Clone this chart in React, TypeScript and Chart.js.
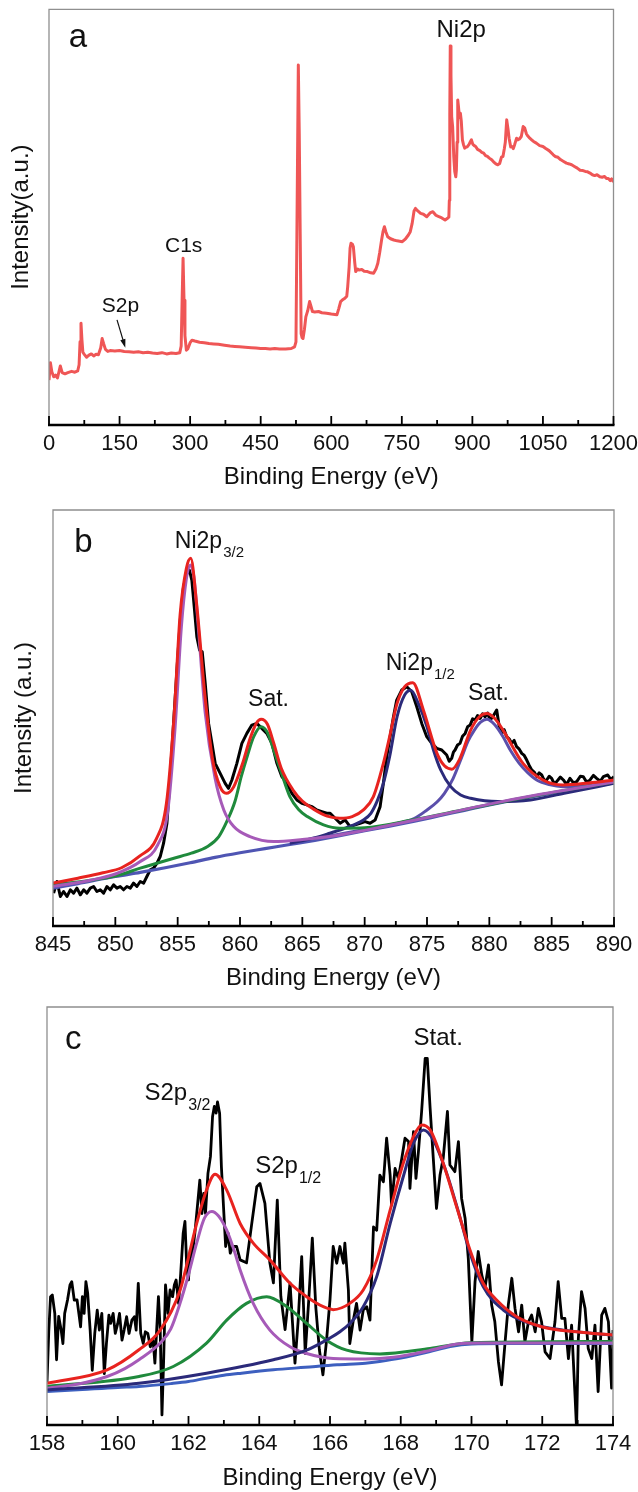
import React, { useEffect, useRef } from 'react';
import { Chart, registerables } from 'chart.js';

Chart.register(...registerables);

const FONT = "'Liberation Sans', Arial, Helvetica, sans-serif";

// ---------------- Panel a : survey spectrum ----------------
const A_TICKS = [0, 150, 300, 450, 600, 750, 900, 1050, 1200];
const SURVEY_EV = [
  0, 3, 6, 10, 14, 18, 24, 28, 34, 40,
  48, 55, 61, 64, 66, 68, 70, 72, 75, 80,
  85, 90, 95, 100, 105, 110, 113, 116, 120, 125,
  130, 140, 150, 160, 170, 180, 190, 200, 210, 220,
  230, 240, 250, 260, 270, 278, 281, 283, 285, 287,
  289, 292, 295, 300, 304, 310, 320, 330, 340, 350,
  360, 373, 385, 395, 405, 417, 430, 440, 450, 460,
  470, 480, 490, 503, 515, 522, 525, 527, 530, 532,
  534, 536, 538, 540, 543, 546, 550, 554, 557, 560,
  565, 573, 580, 590, 600, 612, 616, 620, 625, 629,
  633, 635, 638, 640, 642, 645, 647, 650, 652, 656,
  659, 665, 670, 677, 684, 690, 695, 699, 703, 707,
  710, 713, 716, 720, 726, 733, 740, 751, 758, 764,
  768, 772, 776, 779, 784, 790, 796, 803, 810, 816,
  822, 829, 835, 842, 848, 850, 851, 852, 853, 854.5,
  856, 858, 860.5, 862.5, 864.7, 866, 867.5, 868.9, 870.5, 871.7,
  873, 874.5, 876.5, 878.8, 881, 883.8, 886, 889, 893, 896,
  898, 901, 904, 907, 911, 916, 920, 924, 928, 932,
  936, 941, 945, 950, 954, 958, 962, 965, 968, 970,
  973, 976, 978, 981.5, 984, 987, 990, 994, 997, 1000,
  1004, 1008, 1011, 1015, 1018, 1022, 1026, 1030, 1036, 1043,
  1050, 1056, 1063, 1072, 1076, 1082, 1088, 1094, 1100, 1106,
  1111, 1117, 1123, 1129, 1135, 1140, 1145, 1150, 1155, 1160,
  1165, 1171, 1176, 1181, 1185, 1189, 1193, 1196, 1200,
];
const SURVEY_I = [
  10.8, 15.0, 12.8, 11.6, 12.0, 11.3, 14.2, 12.6, 12.3, 12.6,
  12.9, 12.7, 13.0, 14.5, 20.0, 24.5, 20.5, 17.5, 17.0, 16.3,
  16.8, 17.1, 16.6, 17.0, 16.9, 18.6, 20.8, 19.6, 18.2, 17.7,
  17.9, 17.8, 17.9, 17.7, 17.6, 17.5, 17.6, 17.4, 17.5, 17.3,
  17.2, 17.4, 17.1, 17.3, 17.2, 17.4, 19.0, 30.0, 40.1, 30.0,
  21.5, 18.0, 18.3, 19.8, 20.4, 20.2, 19.9, 19.8, 19.6, 19.5,
  19.4, 19.2, 19.0, 18.9, 18.8, 18.7, 18.6, 18.5, 18.4, 18.4,
  18.3, 18.4, 18.3, 18.3, 18.4, 18.8, 20.0, 46.0, 86.6, 70.0,
  46.0, 22.0, 21.0, 20.8, 23.0, 26.0, 27.5, 29.7, 28.5, 27.3,
  27.2, 27.3, 27.0, 26.9, 26.7, 26.5, 28.0, 29.7, 30.2, 30.5,
  31.0, 33.3, 38.0, 42.5, 43.7, 43.5, 42.9, 39.0, 36.9, 37.5,
  37.3, 37.4, 37.0, 36.9, 36.6, 36.5, 37.5, 38.9, 41.5, 44.5,
  46.5, 47.7, 46.5, 45.3, 44.8, 44.5, 44.3, 44.1, 44.8, 45.7,
  46.5, 48.5, 51.5, 52.1, 51.5, 50.9, 50.7, 50.1, 51.0, 51.3,
  50.5, 50.1, 49.8, 49.3, 49.8, 50.0, 54.0, 75.0, 91.2, 84.0,
  74.2, 71.8, 64.5, 61.0, 59.7, 61.3, 68.0, 78.2, 76.5, 75.0,
  74.0, 75.0, 73.0, 68.6, 67.5, 66.6, 66.8, 66.9, 67.5, 68.2,
  68.6, 67.5, 67.2, 67.0, 66.3, 66.0, 65.6, 65.4, 64.8, 64.6,
  64.2, 63.8, 63.3, 62.8, 62.6, 62.9, 64.5, 64.6, 66.5, 68.0,
  73.4, 71.0, 69.0, 66.9, 67.0, 66.5, 67.5, 69.0, 68.6, 68.8,
  69.4, 71.8, 71.5, 70.0, 69.5, 69.0, 68.6, 68.2, 67.8, 67.2,
  67.0, 66.5, 66.0, 65.0, 64.6, 64.4, 63.8, 63.4, 63.0, 62.8,
  62.6, 62.2, 61.8, 61.3, 61.2, 61.0, 60.9, 60.6, 60.2, 60.0,
  60.2, 59.7, 59.6, 59.8, 59.3, 59.3, 58.8, 59.2, 58.5,
];

// ---------------- Panel b : Ni 2p ----------------
const B_TICKS = [845, 850, 855, 860, 865, 870, 875, 880, 885, 890];
const NI_DATA_EV = [
  845.05, 845.32, 845.59, 845.85, 846.12, 846.39, 846.65, 846.92, 847.19, 847.46,
  847.72, 847.99, 848.26, 848.52, 848.79, 849.06, 849.33, 849.59, 849.86, 850.13,
  850.39, 850.66, 850.93, 851.2, 851.46, 851.73, 852.0, 852.27, 852.53, 852.8,
  853.07, 853.34, 853.6, 853.87, 854.14, 854.4, 854.67, 854.94, 855.21, 855.47,
  855.74, 855.95, 856.14, 856.33, 856.54, 856.76, 856.97, 857.21, 857.48, 857.75,
  858.01, 858.41, 858.81, 859.08, 859.35, 859.75, 860.15, 860.55, 860.95, 861.35,
  861.75, 862.15, 862.56, 862.96, 863.36, 863.76, 864.16, 864.56, 864.96, 865.36,
  865.76, 866.16, 866.56, 866.96, 867.23, 867.63, 868.03, 868.43, 868.83, 869.23,
  869.63, 870.03, 870.43, 870.84, 871.24, 871.5, 871.77, 872.04, 872.31, 872.57,
  872.97, 873.38, 873.78, 874.18, 874.58, 874.98, 875.38, 875.78, 876.18, 876.58,
  876.78, 876.98, 877.12, 877.25, 877.45, 877.65, 877.85, 878.06, 878.26, 878.46,
  878.66, 878.86, 879.06, 879.26, 879.46, 879.66, 879.86, 880.06, 880.3, 880.59,
  880.79, 880.99, 881.19, 881.39, 881.59, 881.79, 881.99, 882.19, 882.4, 882.6,
  882.8, 883.0, 883.2, 883.4, 883.6, 883.8, 884.0, 884.2, 884.4, 884.6,
  884.8, 885.0, 885.2, 885.4, 885.7, 885.94, 886.2, 886.47, 886.75, 887.01,
  887.3, 887.54, 887.8, 888.08, 888.35, 888.61, 888.9, 889.15, 889.5, 889.75,
  890.0,
];
const NI_DATA = [
  7.9, 10.7, 7.1, 8.3, 7.1, 8.7, 7.9, 9.1, 7.5, 8.7,
  7.9, 9.1, 9.5, 8.3, 8.7, 7.9, 9.5, 8.7, 9.9, 9.1,
  9.5, 8.7, 9.5, 9.1, 10.3, 9.5, 10.7, 10.3, 11.9, 13.5,
  13.9, 15.1, 16.7, 19.9, 24.7, 35.9, 48.7, 61.5, 73.5, 81.5,
  84.7, 85.5, 83.1, 76.7, 69.5, 66.3, 65.9, 58.3, 48.7, 43.9,
  39.1, 36.7, 34.3, 33.1, 35.1, 39.1, 43.9, 46.3, 48.3, 48.7,
  47.5, 46.3, 43.9, 39.1, 35.9, 34.3, 31.9, 30.3, 29.5, 29.1,
  28.7, 27.9, 27.5, 27.1, 27.1, 25.9, 24.7, 25.5, 23.9, 24.3,
  24.7, 25.1, 24.7, 25.5, 28.7, 34.3, 40.7, 45.5, 50.3, 54.3,
  56.7, 57.5, 56.3, 52.7, 48.7, 45.5, 43.9, 42.7, 42.3, 41.1,
  39.6, 40.3, 41.8, 42.3, 43.5, 43.9, 45.6, 46.3, 47.9, 48.3,
  49.8, 49.5, 50.6, 49.9, 51.0, 50.3, 51.2, 49.5, 50.4, 51.9,
  48.0, 46.3, 47.2, 45.5, 45.0, 43.9, 44.6, 43.1, 42.5, 41.5,
  41.0, 39.9, 38.6, 37.5, 37.0, 35.9, 36.8, 36.3, 35.0, 35.1,
  36.0, 35.5, 34.2, 34.7, 35.8, 35.1, 34.0, 35.5, 34.4, 34.7,
  36.0, 35.9, 34.6, 35.1, 36.2, 35.5, 34.8, 35.9, 36.3, 35.2,
  35.9,
];
const NI_ENV_EV = [
  845, 847, 849, 850.5, 852, 853.3, 854.1, 854.7, 855.2, 855.7,
  856.05, 856.5, 857.2, 857.8, 858.4, 858.9, 859.5, 860.2, 860.8, 861.3,
  861.7, 862.2, 862.7, 863.3, 864.3, 865.0, 865.9, 867.0, 868.0, 869.0,
  869.9, 870.7, 871.5, 872.0, 872.6, 873.2, 873.86, 874.7, 875.8, 876.4,
  877.0, 877.6, 878.5, 879.2, 879.8, 880.4, 881.1, 882.7, 884.3, 885.9,
  888, 890,
];
const NI_ENV = [
  10.3, 11.5, 12.8, 14.0, 16.9, 21.0, 29.5, 50.0, 75.0, 86.0,
  88.4, 78.0, 55.0, 40.0, 33.5, 31.9, 33.5, 39.0, 45.0, 48.7,
  49.7, 48.5, 44.0, 38.0, 32.5, 30.0, 28.1, 26.4, 25.9, 26.3,
  27.9, 31.1, 39.1, 45.5, 53.5, 57.5, 58.5, 52.0, 41.5, 38.5,
  37.7, 40.0, 47.1, 50.3, 51.1, 50.0, 47.1, 39.1, 35.1, 33.9,
  34.4, 35.1,
];
const NI_P32_EV = [845, 848, 850, 852, 853.4, 854.2, 854.8, 855.3, 855.7, 856.0, 856.3, 856.6, 857.2, 858.0, 858.7, 859.5, 860.8, 862.7, 865, 868, 872, 876, 880, 884, 890];
const NI_P32 = [9.5, 11.0, 12.5, 15.5, 19.5, 27.5, 48.0, 72.0, 83.5, 86.8, 84.0, 74.0, 51.5, 35.5, 27.9, 23.9, 21.5, 20.3, 20.8, 21.9, 24.2, 26.7, 29.3, 31.6, 34.6];
const NI_SAT1_EV = [845, 848, 850, 852, 854.7, 856.1, 857.4, 858.3, 859.0, 859.6, 860.1, 860.6, 861.1, 861.7, 862.2, 862.7, 863.3, 864.0, 864.7, 865.4, 866.7, 868, 870, 874, 878, 882, 886, 890];
const NI_SAT1 = [9.9, 11.0, 12.0, 13.9, 16.3, 17.5, 19.1, 21.5, 25.5, 30.0, 35.9, 41.0, 45.5, 47.9, 46.5, 42.3, 37.0, 31.1, 28.0, 26.3, 24.3, 23.5, 23.6, 25.6, 28.0, 30.4, 32.6, 34.6];
const NI_P12_EV = [864, 866, 867.2, 868.5, 869.9, 870.5, 871.0, 871.5, 872.0, 872.6, 873.2, 873.7, 874.3, 875.0, 875.5, 876.1, 876.9, 877.7, 878.5, 880.7, 883.3, 886, 890];
const NI_P12 = [19.9, 21.2, 22.3, 23.6, 25.5, 27.1, 30.0, 34.3, 40.7, 50.3, 55.5, 56.7, 53.5, 47.9, 42.5, 37.5, 33.5, 31.5, 30.7, 29.9, 30.3, 31.9, 34.3];
const NI_SAT2_EV = [866, 870, 872, 874, 875.0, 875.8, 876.4, 877.1, 877.8, 878.3, 878.8, 879.3, 879.8, 880.4, 881.1, 881.7, 882.4, 883.1, 883.8, 884.8, 885.9, 888, 890];
const NI_SAT2 = [21.0, 23.2, 24.3, 25.9, 27.9, 29.8, 31.9, 35.5, 40.7, 44.5, 47.1, 49.0, 49.7, 48.5, 45.5, 42.2, 39.1, 36.8, 35.1, 34.0, 33.5, 33.8, 34.7];
const NI_BG_EV = [845, 847, 850, 852, 854, 856, 858, 860, 862, 864, 866, 868, 870, 872, 874, 876, 878, 880, 882, 884, 886, 888, 890];
const NI_BG = [9.1, 10.2, 11.9, 12.9, 14.0, 15.2, 16.5, 17.6, 18.6, 19.6, 20.6, 21.7, 22.9, 24.0, 25.2, 26.5, 27.8, 29.1, 30.3, 31.4, 32.4, 33.4, 34.4];

// ---------------- Panel c : S 2p ----------------
const C_TICKS = [158, 160, 162, 164, 166, 168, 170, 172, 174];
const S_DATA_EV = [
  158.0, 158.05, 158.1, 158.15, 158.22, 158.27, 158.33, 158.4, 158.45, 158.5,
  158.58, 158.65, 158.7, 158.77, 158.85, 158.9, 158.95, 159.0, 159.05, 159.1,
  159.15, 159.22, 159.28, 159.35, 159.42, 159.48, 159.55, 159.62, 159.68, 159.75,
  159.8, 159.87, 159.93, 160.0, 160.05, 160.12, 160.18, 160.25, 160.32, 160.4,
  160.47, 160.52, 160.58, 160.65, 160.72, 160.78, 160.85, 160.92, 161.0, 161.05,
  161.1, 161.15, 161.2, 161.25, 161.3, 161.35, 161.42, 161.48, 161.55, 161.6,
  161.65, 161.72, 161.78, 161.85, 161.9, 161.95, 162.0, 162.05, 162.1, 162.18,
  162.25, 162.32, 162.38, 162.43, 162.48, 162.55, 162.62, 162.68, 162.73, 162.78,
  162.82, 162.88, 162.93, 163.0, 163.05, 163.12, 163.18, 163.25, 163.36, 163.46,
  163.64, 163.79, 163.93, 164.02, 164.16, 164.3, 164.4, 164.51, 164.61, 164.73,
  164.87, 165.01, 165.1, 165.2, 165.3, 165.4, 165.5, 165.6, 165.7, 165.8,
  165.9, 166.0, 166.09, 166.19, 166.28, 166.38, 166.42, 166.52, 166.56, 166.66,
  166.75, 166.85, 166.94, 167.04, 167.13, 167.23, 167.32, 167.41, 167.51, 167.6,
  167.7, 167.74, 167.84, 167.93, 168.03, 168.12, 168.22, 168.26, 168.36, 168.43,
  168.5, 168.59, 168.69, 168.75, 168.83, 168.92, 169.01, 169.11, 169.2, 169.32,
  169.39, 169.53, 169.63, 169.72, 169.82, 169.91, 170.01, 170.1, 170.19, 170.29,
  170.38, 170.48, 170.57, 170.66, 170.76, 170.85, 170.95, 171.04, 171.14, 171.23,
  171.33, 171.42, 171.51, 171.61, 171.7, 171.8, 171.89, 171.98, 172.08, 172.22,
  172.36, 172.45, 172.55, 172.64, 172.74, 172.83, 172.93, 172.97, 173.02, 173.11,
  173.21, 173.3, 173.4, 173.49, 173.58, 173.68, 173.77, 173.87, 173.96, 174.0,
];
const S_DATA = [
  10.3, 22.3, 30.7, 31.1, 26.7, 15.6, 26.0, 22.7, 19.5, 26.7,
  29.9, 33.5, 34.3, 29.9, 29.9, 26.7, 23.5, 30.7, 26.7, 34.3,
  31.5, 22.7, 13.1, 21.9, 27.5, 22.7, 26.7, 12.3, 19.5, 26.3,
  24.3, 26.7, 21.9, 24.3, 26.7, 20.3, 22.7, 25.9, 21.9, 25.1,
  25.9, 22.7, 33.9, 21.9, 19.5, 22.3, 21.9, 18.7, 20.3, 14.8,
  22.7, 30.7, 22.7, 2.4, 16.3, 33.5, 26.7, 32.3, 30.7, 33.5,
  34.7, 29.1, 36.3, 45.9, 48.7, 37.9, 34.7, 41.9, 40.3, 45.9,
  52.2, 58.6, 50.6, 55.4, 50.6, 60.2, 64.2, 73.8, 76.2, 74.6,
  77.3, 74.6, 61.8, 50.6, 42.7, 45.9, 41.1, 42.7, 42.7, 39.5,
  38.8, 48.3, 57.0, 57.8, 53.0, 38.8, 34.0, 53.8, 30.8, 22.8,
  34.0, 14.8, 25.0, 40.3, 17.1, 30.0, 44.7, 28.0, 18.0, 12.0,
  20.0, 30.0, 42.7, 38.7, 42.7, 38.7, 43.5, 32.3, 19.5, 25.1,
  29.1, 22.7, 27.5, 28.3, 25.1, 47.4, 46.6, 59.8, 58.2, 68.6,
  59.8, 52.6, 61.4, 59.0, 63.8, 68.6, 67.8, 56.6, 70.2, 59.0,
  65.4, 75.0, 87.7, 87.7, 75.8, 63.8, 51.8, 59.8, 63.8, 75.0,
  62.2, 60.6, 67.8, 54.2, 49.4, 39.8, 19.9, 34.3, 41.5, 35.9,
  32.7, 38.3, 28.7, 24.7, 15.2, 9.6, 19.9, 28.7, 35.1, 27.9,
  22.3, 28.7, 19.9, 24.7, 26.3, 22.3, 27.9, 24.7, 17.5, 15.9,
  24.7, 34.3, 25.5, 25.5, 15.9, 23.9, 6.4, -1.0, 20.7, 31.9,
  27.9, 18.3, 15.9, 23.9, 8.0, 26.3, 27.9, 24.7, 8.8, 22.7,
];
const S_ENV_EV = [158.0, 159.7, 160.6, 161.2, 161.76, 162.23, 162.51, 162.75, 163.08, 163.46, 163.83, 164.3, 164.87, 165.34, 165.81, 166.09, 166.56, 166.94, 167.32, 167.7, 168.07, 168.36, 168.59, 168.83, 169.2, 169.58, 169.96, 170.33, 170.71, 171.28, 172.03, 172.97, 174.0];
const S_ENV = [10.0, 13.2, 18.0, 22.7, 32.2, 48.2, 56.2, 60.0, 56.2, 48.2, 43.5, 39.5, 33.9, 30.7, 28.3, 27.6, 29.1, 32.3, 39.5, 51.4, 62.6, 69.0, 71.8, 70.6, 62.6, 52.2, 41.8, 33.9, 29.9, 25.9, 23.4, 22.3, 21.5];
const S_P32_EV = [158.0, 159.0, 159.7, 160.2, 160.6, 161.2, 161.5, 161.76, 162.0, 162.23, 162.45, 162.66, 162.85, 163.08, 163.3, 163.46, 163.83, 164.3, 164.87, 165.34, 166.09, 167.0, 167.8, 168.8, 169.6, 170.2, 174];
const S_P32 = [8.8, 10.0, 11.6, 13.5, 15.6, 19.6, 23.0, 29.1, 36.0, 43.5, 49.5, 51.1, 50.0, 46.6, 41.5, 37.1, 29.1, 22.7, 18.7, 17.1, 15.9, 15.8, 16.2, 17.8, 19.4, 19.6, 19.6];
const S_P12_EV = [158.0, 160.6, 161.57, 162.51, 163.08, 163.64, 164.21, 164.78, 165.34, 165.9, 166.47, 167.41, 168.83, 169.96, 174.0];
const S_P12 = [9.2, 11.6, 14.0, 19.6, 25.1, 29.1, 30.7, 28.3, 24.3, 20.3, 17.9, 17.0, 18.3, 19.7, 20.0];
const S_STAT_EV = [158.0, 160.6, 162.51, 164.4, 165.34, 166.0, 166.28, 166.56, 166.94, 167.32, 167.7, 168.07, 168.36, 168.64, 168.92, 169.3, 169.67, 169.96, 170.33, 170.9, 171.65, 172.6, 174.0];
const S_STAT = [8.4, 10.0, 12.4, 15.6, 17.9, 20.8, 22.3, 24.3, 28.3, 35.5, 48.2, 59.4, 67.4, 70.6, 68.2, 60.2, 49.8, 41.1, 33.1, 27.5, 24.3, 22.7, 21.5];
const S_BG_EV = [158, 159, 160, 160.6, 161.5, 162.0, 162.5, 163.0, 163.5, 164.4, 165.3, 166.2, 167.0, 167.4, 168.0, 168.8, 169.4, 170.0, 171, 172, 173, 174];
const S_BG = [8.0, 8.5, 9.0, 9.2, 9.9, 10.4, 11.2, 11.9, 12.4, 13.2, 13.8, 14.4, 14.8, 15.2, 16.0, 17.5, 18.8, 19.4, 19.5, 19.5, 19.5, 19.5];

// ---------------- annotations (data coordinates) ----------------
const A_LABELS = [
  { text: 'a', x: 61.6, y: 93.1, size: 33 },
  { text: 'Ni2p', x: 876.2, y: 95.0, size: 24 },
  { text: 'C1s', x: 286.3, y: 42.9, size: 21 },
  { text: 'S2p', x: 151.8, y: 28.5, size: 21 },
];
const A_ARROW = { x1: 144.6, y1: 25.3, x2: 162.2, y2: 18.6 };
const B_LABELS = [
  { text: 'b', x: 847.45, y: 92.1, size: 33 },
  { text: 'Ni2p', sub: '3/2', x: 856.67, y: 92.4, size: 23, subSize: 15 },
  { text: 'Sat.', x: 862.29, y: 54.3, size: 23 },
  { text: 'Ni2p', sub: '1/2', x: 873.58, y: 63.1, size: 23, subSize: 15 },
  { text: 'Sat.', x: 879.92, y: 55.9, size: 23 },
];
const C_LABELS = [
  { text: 'c', x: 158.74, y: 92.1, size: 33 },
  { text: 'Stat.', x: 169.06, y: 92.5, size: 24 },
  { text: 'S2p', sub: '3/2', x: 161.36, y: 79.4, size: 24, subSize: 16 },
  { text: 'S2p', sub: '1/2', x: 164.49, y: 61.8, size: 24, subSize: 16 },
];

function pts(xs: number[], ys: number[]) {
  return xs.map((x, i) => ({ x, y: ys[i] }));
}

function ds(xs: number[], ys: number[], color: string, width: number, smooth: boolean) {
  return {
    data: pts(xs, ys),
    borderColor: color,
    backgroundColor: color,
    borderWidth: width,
    pointRadius: 0,
    fill: false,
    tension: smooth ? 0.4 : 0,
    cubicInterpolationMode: smooth ? 'monotone' : 'default',
    borderJoinStyle: 'round',
  };
}

function decorPlugin(labels: any[], arrow?: any) {
  return {
    id: 'decor',
    afterDatasetsDraw(chart: any) {
      const { ctx, chartArea: ca } = chart;
      const xs = chart.scales.x;
      const ys = chart.scales.y;
      ctx.save();
      // frame (gray)
      ctx.strokeStyle = '#8f8f8f';
      ctx.lineWidth = 1.3;
      ctx.beginPath();
      ctx.moveTo(ca.left, ca.bottom);
      ctx.lineTo(ca.left, ca.top);
      ctx.lineTo(ca.right, ca.top);
      ctx.lineTo(ca.right, ca.bottom);
      ctx.stroke();
      // inward ticks
      const vals = xs.ticks.map((t: any) => t.value);
      ctx.strokeStyle = '#000';
      ctx.lineWidth = 1.8;
      ctx.beginPath();
      vals.forEach((v: number, i: number) => {
        const px = xs.getPixelForValue(v);
        ctx.moveTo(px, ca.bottom);
        ctx.lineTo(px, ca.bottom - 9);
        if (i < vals.length - 1) {
          const pm = xs.getPixelForValue((v + vals[i + 1]) / 2);
          ctx.moveTo(pm, ca.bottom);
          ctx.lineTo(pm, ca.bottom - 5);
        }
      });
      ctx.stroke();
      // x axis line
      ctx.lineWidth = 2.4;
      ctx.beginPath();
      ctx.moveTo(ca.left - 1, ca.bottom);
      ctx.lineTo(ca.right + 1, ca.bottom);
      ctx.stroke();
      // labels
      ctx.fillStyle = '#111';
      ctx.textBaseline = 'middle';
      labels.forEach((l: any) => {
        const px = xs.getPixelForValue(l.x);
        const py = ys.getPixelForValue(l.y);
        ctx.font = `${l.size}px ${FONT}`;
        ctx.textAlign = 'center';
        ctx.fillText(l.text, px, py);
        if (l.sub) {
          const w = ctx.measureText(l.text).width;
          ctx.font = `${l.subSize}px ${FONT}`;
          ctx.textAlign = 'left';
          ctx.fillText(l.sub, px + w / 2 + 1, py + l.size * 0.5);
        }
      });
      if (arrow) {
        const x1 = xs.getPixelForValue(arrow.x1);
        const y1 = ys.getPixelForValue(arrow.y1);
        const x2 = xs.getPixelForValue(arrow.x2);
        const y2 = ys.getPixelForValue(arrow.y2);
        const ang = Math.atan2(y2 - y1, x2 - x1);
        ctx.strokeStyle = '#111';
        ctx.lineWidth = 1.2;
        ctx.beginPath();
        ctx.moveTo(x1, y1);
        ctx.lineTo(x2 - 6 * Math.cos(ang), y2 - 6 * Math.sin(ang));
        ctx.stroke();
        ctx.beginPath();
        ctx.moveTo(x2, y2);
        ctx.lineTo(x2 - 9 * Math.cos(ang - 0.3), y2 - 9 * Math.sin(ang - 0.3));
        ctx.lineTo(x2 - 9 * Math.cos(ang + 0.3), y2 - 9 * Math.sin(ang + 0.3));
        ctx.closePath();
        ctx.fill();
      }
      ctx.restore();
    },
  };
}

type PanelSpec = {
  height: number;
  plotLeft: number;
  plotRight: number;
  plotTop: number;
  plotBottom: number;
  xMin: number;
  xMax: number;
  ticks: number[];
  yTitle?: string;
  yTitlePad: number;
  xTitlePad: number;
  datasets: any[];
  labels: any[];
  arrow?: any;
};

function makeConfig(p: PanelSpec): any {
  return {
    type: 'line',
    data: { datasets: p.datasets },
    options: {
      animation: false,
      responsive: false,
      events: [],
      layout: { padding: { left: 0, right: 638 - p.plotRight, top: p.plotTop, bottom: 0 } },
      plugins: { legend: { display: false }, tooltip: { enabled: false }, title: { display: false } },
      scales: {
        x: {
          type: 'linear',
          min: p.xMin,
          max: p.xMax,
          afterBuildTicks: (s: any) => {
            s.ticks = p.ticks.map((v) => ({ value: v }));
          },
          ticks: {
            callback: (v: any) => String(v),
            font: { family: FONT, size: 22, lineHeight: 1 },
            color: '#111',
            padding: 8,
            maxRotation: 0,
            minRotation: 0,
            autoSkip: false,
          },
          grid: { display: false, drawTicks: false },
          border: { display: false },
          title: {
            display: true,
            text: 'Binding Energy (eV)',
            color: '#111',
            font: { family: FONT, size: 24, lineHeight: 1 },
            padding: { top: 0, bottom: p.xTitlePad },
          },
          afterFit: (s: any) => {
            s.height = p.height - p.plotBottom;
            s.paddingLeft = 0;
            s.paddingRight = 0;
          },
        },
        y: {
          type: 'linear',
          min: 0,
          max: 100,
          ticks: { display: false },
          grid: { display: false, drawTicks: false },
          border: { display: false },
          title: {
            display: !!p.yTitle,
            text: p.yTitle || '',
            color: '#111',
            font: { family: FONT, size: 24, lineHeight: 1 },
            padding: { top: p.yTitlePad, bottom: 0 },
          },
          afterFit: (s: any) => {
            s.width = p.plotLeft;
            s.paddingTop = 0;
            s.paddingBottom = 0;
          },
        },
      },
    },
    plugins: [decorPlugin(p.labels, p.arrow)],
  };
}

const RED = '#e8231f';
const PURPLE = '#a65ab8';
const GREEN = '#1f8a3c';
const NAVY = '#2b2a7a';
const SLATE = '#5b4fab';
const BGBLUE = '#4f55b3';

function specA(): PanelSpec {
  return {
    height: 500,
    plotLeft: 49,
    plotRight: 613.5,
    plotTop: 9.3,
    plotBottom: 425,
    xMin: 0,
    xMax: 1200,
    ticks: A_TICKS,
    yTitle: 'Intensity(a.u.)',
    yTitlePad: 9.5,
    xTitlePad: 11,
    datasets: [ds(SURVEY_EV, SURVEY_I, '#ef5656', 3, false)],
    labels: A_LABELS,
    arrow: A_ARROW,
  };
}

function specB(): PanelSpec {
  return {
    height: 500,
    plotLeft: 53,
    plotRight: 614,
    plotTop: 10,
    plotBottom: 426,
    xMin: 845,
    xMax: 890,
    ticks: B_TICKS,
    yTitle: 'Intensity (a.u.)',
    yTitlePad: 12.5,
    xTitlePad: 9.7,
    datasets: [
      ds(NI_ENV_EV, NI_ENV, RED, 3, true),
      ds(NI_P32_EV, NI_P32, PURPLE, 3, true),
      ds(NI_SAT1_EV, NI_SAT1, GREEN, 3, true),
      ds(NI_P12_EV, NI_P12, NAVY, 3, true),
      ds(NI_SAT2_EV, NI_SAT2, SLATE, 3, true),
      ds(NI_BG_EV, NI_BG, BGBLUE, 3.2, true),
      ds(NI_DATA_EV, NI_DATA, '#000', 3, false),
    ],
    labels: B_LABELS,
  };
}

function specC(): PanelSpec {
  return {
    height: 492,
    plotLeft: 47,
    plotRight: 613,
    plotTop: 7,
    plotBottom: 425,
    xMin: 158,
    xMax: 174,
    ticks: C_TICKS,
    yTitlePad: 0,
    xTitlePad: 1.7,
    datasets: [
      ds(S_ENV_EV, S_ENV, RED, 3, true),
      ds(S_STAT_EV, S_STAT, NAVY, 3, true),
      ds(S_P32_EV, S_P32, PURPLE, 3, true),
      ds(S_P12_EV, S_P12, GREEN, 3, true),
      ds(S_BG_EV, S_BG, '#3d5fbf', 3, true),
      ds(S_DATA_EV, S_DATA, '#000', 2.8, false),
    ],
    labels: C_LABELS,
  };
}

function Panel({ top, spec }: { top: number; spec: () => PanelSpec }) {
  const ref = useRef<HTMLCanvasElement>(null);
  const s = spec();
  useEffect(() => {
    const chart = new Chart(ref.current as HTMLCanvasElement, makeConfig(spec()));
    return () => chart.destroy();
  }, []);
  return (
    <canvas
      ref={ref}
      width={638}
      height={s.height}
      style={{ position: 'absolute', left: 0, top, width: 638, height: s.height, display: 'block' }}
    />
  );
}

export default function App() {
  return (
    <div style={{ position: 'absolute', left: 0, top: 0, width: 638, height: 1492, background: '#fff' }}>
      <Panel top={0} spec={specA} />
      <Panel top={500} spec={specB} />
      <Panel top={1000} spec={specC} />
    </div>
  );
}
